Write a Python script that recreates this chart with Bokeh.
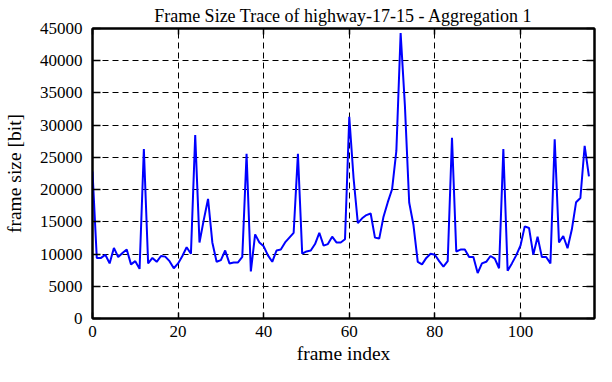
from bokeh.plotting import figure
from bokeh.models import LinearAxis, Range1d, FixedTicker, BasicTickFormatter
from bokeh.embed import file_html
from bokeh.resources import INLINE

frame_index = list(range(117))
frame_size = [
    22800, 9400, 9400, 9900, 8550, 10950, 9550, 10150, 10700, 8400,
    8900, 7700, 26300, 8550, 9400, 8800, 9700, 9600, 8900, 7800,
    8550, 9700, 11050, 10050, 28450, 11800, 15300, 18550, 11800, 8800,
    9050, 10550, 8550, 8700, 8700, 9550, 25550, 7300, 13050, 11800,
    11200, 9800, 8800, 10550, 10700, 11800, 12550, 13300, 25550, 10050,
    10400, 10550, 11550, 13300, 11300, 11550, 12700, 11800, 11800, 12300,
    31300, 21800, 14800, 15550, 16050, 16300, 12550, 12400, 15800, 18050,
    20050, 26000, 44300, 33000, 18000, 14500, 8800, 8400, 9400, 10050,
    9900, 8900, 8050, 8900, 28050, 10400, 10700, 10700, 9550, 9550,
    7050, 8550, 8800, 9700, 9300, 7800, 26300, 7400, 8550, 9800,
    11300, 14300, 14050, 9900, 12700, 9550, 9550, 8550, 27800, 11800,
    12800, 10900, 13800, 18050, 18700, 26800, 22050,
]
x_ticks = [0, 20, 40, 60, 80, 100]
y_ticks = [0, 5000, 10000, 15000, 20000, 25000, 30000, 35000, 40000, 45000]

FONT = "Liberation Serif"

p = figure(width=596, height=366, output_backend="svg", toolbar_location=None,
           x_range=Range1d(0, 117.3), y_range=Range1d(0, 45000),
           title="Frame Size Trace of highway-17-15 - Aggregation 1",
           x_axis_label="frame index", y_axis_label="frame size [bit]",
           min_border_left=90, min_border_right=2, min_border_top=0, min_border_bottom=30)

p.title.text_font = FONT
p.title.text_font_size = "18px"
p.title.text_font_style = "normal"
p.title.align = "center"
p.title.text_color = "black"
p.title.standoff = 6

p.background_fill_color = "white"
p.border_fill_color = "white"
p.outline_line_color = "black"
p.outline_line_width = 2

for ax in (p.xaxis[0], p.yaxis[0]):
    ax.axis_label_text_font = FONT
    ax.axis_label_text_font_size = "19.5px"
    ax.axis_label_text_font_style = "normal"
    ax.axis_label_text_color = "black"
    ax.axis_label_text_line_height = 1.0
    ax.major_label_text_font = FONT
    ax.major_label_text_font_size = "17px"
    ax.major_label_text_font_style = "normal"
    ax.major_label_text_line_height = 1.0
    ax.major_label_text_color = "black"
    ax.major_tick_out = 0
    ax.minor_tick_in = 0
    ax.minor_tick_out = 0
    ax.major_tick_line_color = "black"
    ax.major_tick_line_width = 1.5
    ax.axis_line_color = "black"
    ax.axis_line_width = 2

p.xaxis[0].major_tick_in = 6
p.yaxis[0].major_tick_in = 8
p.xaxis[0].ticker = FixedTicker(ticks=x_ticks)
p.yaxis[0].ticker = FixedTicker(ticks=y_ticks)
p.yaxis[0].formatter = BasicTickFormatter(use_scientific=False)
p.xaxis[0].major_label_standoff = 7
p.xaxis[0].axis_label_standoff = 3
p.yaxis[0].major_label_standoff = 10
p.yaxis[0].axis_label_standoff = 12

# mirrored ticks on the top and right borders (no labels)
for loc, tk, tlen in (("right", y_ticks, 8), ("above", x_ticks, 6)):
    ax = LinearAxis(ticker=FixedTicker(ticks=tk),
                    major_label_overrides={t: "" for t in tk})
    ax.major_label_text_font_size = "1px"
    ax.major_label_standoff = 0
    ax.major_tick_in = tlen
    ax.major_tick_out = 0
    ax.minor_tick_in = 0
    ax.minor_tick_out = 0
    ax.major_tick_line_color = "black"
    ax.major_tick_line_width = 1.5
    ax.axis_line_color = "black"
    ax.axis_line_width = 2
    p.add_layout(ax, loc)

p.xgrid.ticker = FixedTicker(ticks=x_ticks)
p.ygrid.ticker = FixedTicker(ticks=y_ticks)
for g in (p.xgrid[0], p.ygrid[0]):
    g.grid_line_color = "black"
    g.grid_line_width = 1
    g.grid_line_dash = "6 4"
    g.grid_line_alpha = 1.0

p.line(frame_index, frame_size, line_color="#0000ff", line_width=2)

open("out.html", "w").write(file_html(p, INLINE))
